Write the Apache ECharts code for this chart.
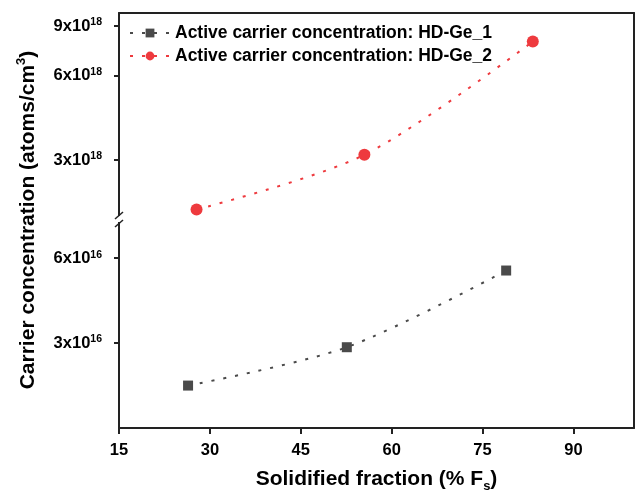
<!DOCTYPE html>
<html>
<head>
<meta charset="utf-8">
<script src="https://cdn.jsdelivr.net/npm/echarts@6/dist/echarts.min.js"></script>
<style>
html,body{margin:0;padding:0;background:#fff;}
#chart{width:638px;height:494px;}
</style>
</head>
<body>
<div id="chart"></div>
<script>
// ---- data ----
const seriesNames = ['Active carrier concentration: HD-Ge_1', 'Active carrier concentration: HD-Ge_2'];
const fs1 = [26.4, 52.6, 78.9];
const conc1 = [2.11e16, 2.89e16, 5.42e16];
const fs2 = [27.8, 55.5, 83.3];
const conc2 = [2.0e18, 3.13e18, 7.92e18];
const xTicks = [15, 30, 45, 60, 75, 90];
const yTicksUpper = [3e18, 6e18, 9e18];
const yTicksLower = [3e16, 6e16];

const chart = echarts.init(document.getElementById('chart'), null, {renderer: 'canvas'});
const FONT = 'Liberation Sans, Arial, sans-serif';
const AX = '#222';

function sciLabel(v) {
  const e = Math.floor(Math.log10(v) + 1e-9);
  const m = Math.round(v / Math.pow(10, e));
  return '{m|' + m + 'x10}{s|' + e + '}';
}
const labelRich = {
  m: {fontSize: 16.5, fontWeight: 'bold', fontFamily: FONT, color: '#000', lineHeight: 18, verticalAlign: 'bottom'},
  s: {fontSize: 10.5, fontWeight: 'bold', fontFamily: FONT, color: '#000', lineHeight: 10, verticalAlign: 'top'}
};

function yLeft(grid, min, max, ticks) {
  return {
    type: 'log', gridIndex: grid, min: min, max: max, position: 'left',
    axisLine: {show: true, lineStyle: {color: AX, width: 2}},
    axisTick: {show: true, inside: false, length: 5, lineStyle: {color: AX, width: 2}, customValues: ticks},
    axisLabel: {show: true, margin: 17, customValues: ticks, formatter: sciLabel, rich: labelRich},
    splitLine: {show: false}, minorTick: {show: false}
  };
}
function yRight(grid, min, max) {
  return {
    type: 'log', gridIndex: grid, min: min, max: max, position: 'right',
    axisLine: {show: true, lineStyle: {color: AX, width: 2}},
    axisTick: {show: false}, axisLabel: {show: false}, splitLine: {show: false}
  };
}

const option = {
  backgroundColor: '#fff',
  animation: false,
  grid: [
    {left: 119, right: 4, top: 13, height: 206},
    {left: 119, right: 4, top: 219, height: 210}
  ],
  xAxis: [
    {type: 'value', gridIndex: 0, min: 15, max: 100, position: 'top',
     axisLine: {show: true, onZero: false, lineStyle: {color: AX, width: 2}},
     axisTick: {show: false}, axisLabel: {show: false}, splitLine: {show: false}},
    {type: 'value', gridIndex: 1, min: 15, max: 100, interval: 15, position: 'bottom',
     axisLine: {show: true, onZero: false, lineStyle: {color: AX, width: 2}},
     axisTick: {show: true, length: 6, lineStyle: {color: AX, width: 2}, customValues: xTicks},
     axisLabel: {show: true, margin: 14, customValues: xTicks, fontSize: 16.5, fontWeight: 'bold', fontFamily: FONT, color: '#000'},
     splitLine: {show: false},
     name: '{a|Solidified fraction (% F}{b|s}{a|)}',
     nameLocation: 'middle', nameGap: 41,
     nameTextStyle: {rich: {
       a: {fontSize: 21, fontWeight: 'bold', fontFamily: FONT, color: '#000', lineHeight: 24, verticalAlign: 'top'},
       b: {fontSize: 13, fontWeight: 'bold', fontFamily: FONT, color: '#000', lineHeight: 10, verticalAlign: 'bottom'}
     }}
    }
  ],
  yAxis: [
    yLeft(0, 1.85e18, 1e19, yTicksUpper),
    yRight(0, 1.85e18, 1e19),
    yLeft(1, 1.49e16, 8.27e16, yTicksLower),
    yRight(1, 1.49e16, 8.27e16)
  ],
  legend: {
    orient: 'vertical', left: 124, top: 19, itemWidth: 40, itemHeight: 11, itemGap: 5,
    textStyle: {fontSize: 17.5, fontWeight: 'bold', fontFamily: FONT, color: '#000', padding: [0, 0, 0, 0]},
    data: seriesNames
  },
  series: [
    {name: seriesNames[0], type: 'line', xAxisIndex: 1, yAxisIndex: 2,
     data: fs1.map((x, i) => [x, conc1[i]]),
     symbol: 'rect', symbolSize: 10, smooth: 0.3,
     itemStyle: {color: '#4a4a4a'},
     lineStyle: {color: '#4a4a4a', width: 2, type: [3, 9]}},
    {name: seriesNames[1], type: 'line', xAxisIndex: 0, yAxisIndex: 0,
     data: fs2.map((x, i) => [x, conc2[i]]),
     symbol: 'circle', symbolSize: 12, smooth: 0.3,
     itemStyle: {color: '#ee3a3e'},
     lineStyle: {color: '#ee3a3e', width: 2, type: [3, 9]}}
  ],
  graphic: [
    {type: 'rect', shape: {x: 116, y: 216, width: 6, height: 6}, style: {fill: '#fff'}, z: 100},
    {type: 'line', shape: {x1: 115, y1: 219, x2: 123, y2: 212}, style: {stroke: AX, lineWidth: 1.5}, z: 101},
    {type: 'line', shape: {x1: 115, y1: 227, x2: 123, y2: 220}, style: {stroke: AX, lineWidth: 1.5}, z: 101},
    {type: 'text', x: 27, y: 220, rotation: Math.PI / 2, z: 100,
     style: {
       text: '{a|Carrier concentration (atoms/cm}{b|3}{a|)}',
       align: 'center', verticalAlign: 'middle',
       rich: {
         a: {fontSize: 21, fontWeight: 'bold', fontFamily: FONT, fill: '#000', lineHeight: 24, verticalAlign: 'bottom'},
         b: {fontSize: 13, fontWeight: 'bold', fontFamily: FONT, fill: '#000', lineHeight: 12, verticalAlign: 'top'}
       }
     }}
  ]
};
chart.setOption(option);
</script>
</body>
</html>
